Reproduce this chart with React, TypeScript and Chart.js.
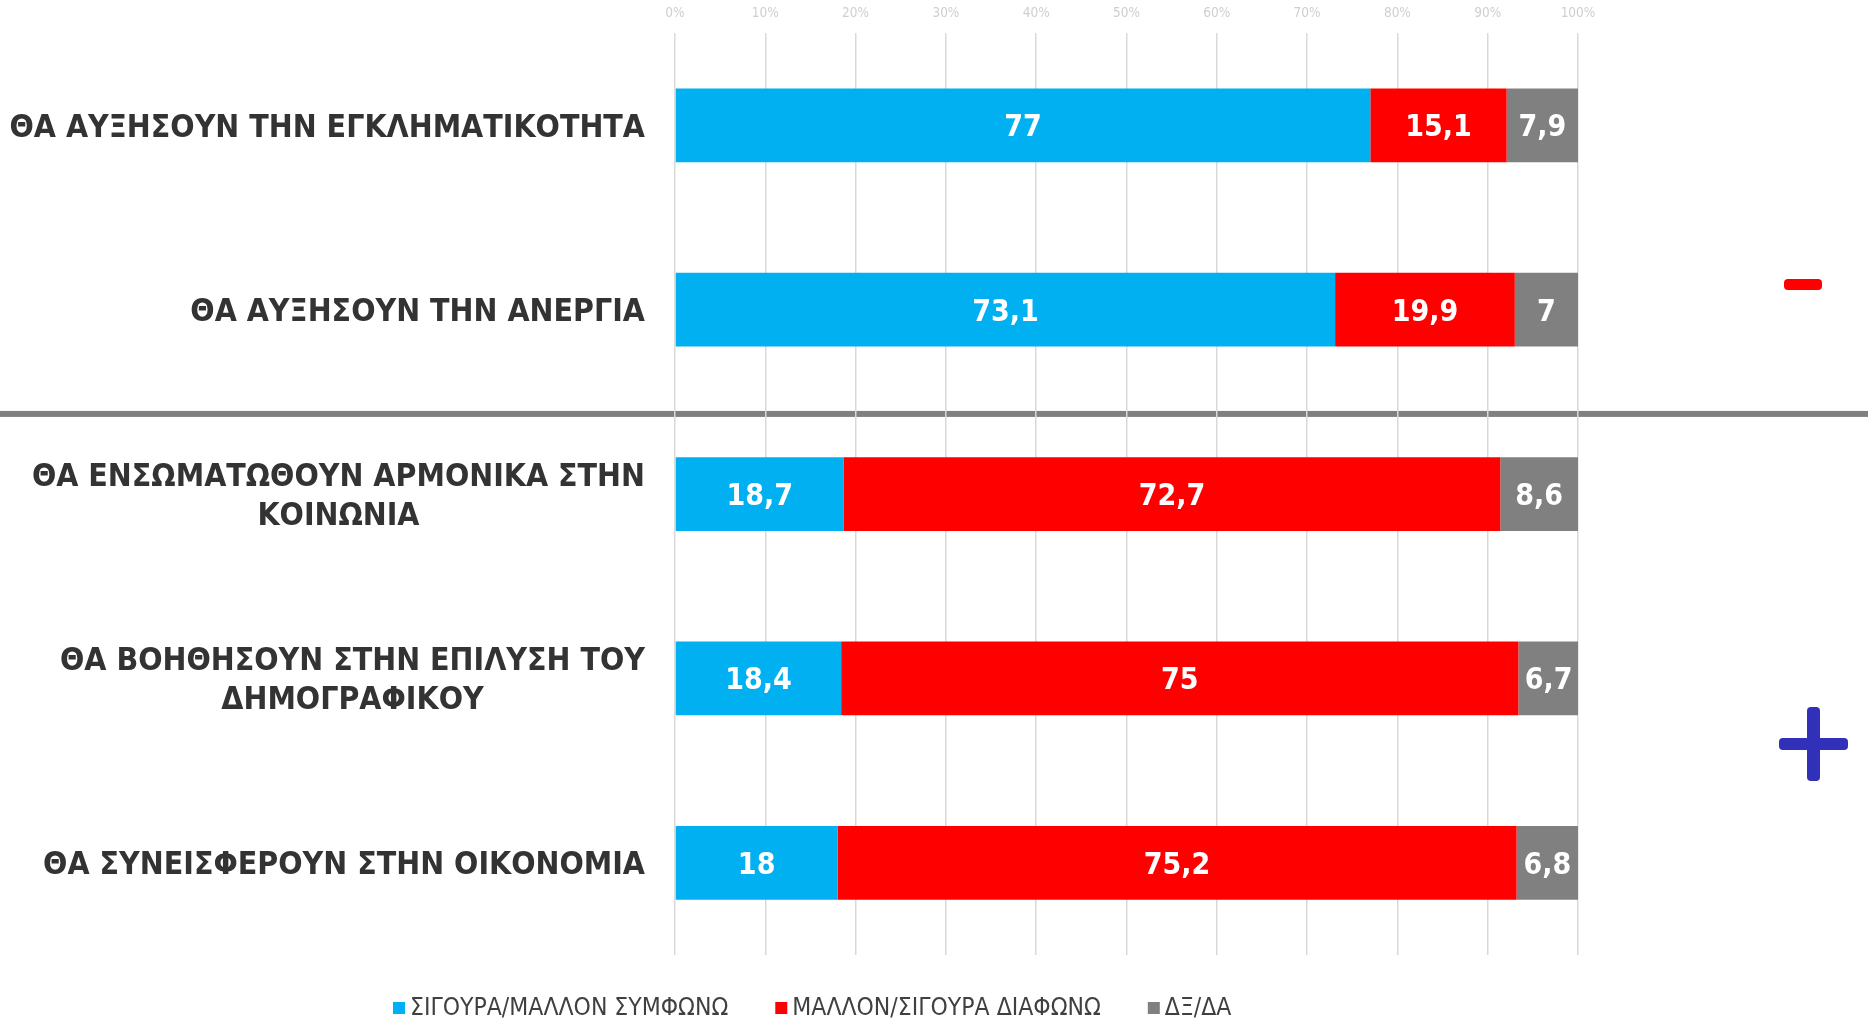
import React, { useEffect, useRef } from "react";
import { Chart, registerables } from "chart.js";

Chart.register(...registerables);

const categories: (string | string[])[] = [
  "ΘΑ ΑΥΞΗΣΟΥΝ ΤΗΝ ΕΓΚΛΗΜΑΤΙΚΟΤΗΤΑ",
  "ΘΑ ΑΥΞΗΣΟΥΝ ΤΗΝ ΑΝΕΡΓΙΑ",
  ["ΘΑ ΕΝΣΩΜΑΤΩΘΟΥΝ ΑΡΜΟΝΙΚΑ ΣΤΗΝ", "ΚΟΙΝΩΝΙΑ"],
  ["ΘΑ ΒΟΗΘΗΣΟΥΝ ΣΤΗΝ ΕΠΙΛΥΣΗ ΤΟΥ", "ΔΗΜΟΓΡΑΦΙΚΟΥ"],
  "ΘΑ ΣΥΝΕΙΣΦΕΡΟΥΝ ΣΤΗΝ ΟΙΚΟΝΟΜΙΑ",
];

const seriesNames = ["ΣΙΓΟΥΡΑ/ΜΑΛΛΟΝ ΣΥΜΦΩΝΩ", "ΜΑΛΛΟΝ/ΣΙΓΟΥΡΑ ΔΙΑΦΩΝΩ", "ΔΞ/ΔΑ"];
const agreeValues = [77, 73.1, 18.7, 18.4, 18];
const disagreeValues = [15.1, 19.9, 72.7, 75, 75.2];
const dontKnowValues = [7.9, 7, 8.6, 6.7, 6.8];
const seriesColors = ["#00B0F0", "#FF0000", "#808080"];
const xTickStep = 10;
const xMin = 0;
const xMax = 100;

const FONT = '"DejaVu Sans Condensed", "DejaVu Sans", sans-serif';
const fmt = (v: number) => String(v).replace(".", ",");

const overlayPlugin = {
  id: "overlay",
  beforeDraw(chart: any) {
    const ctx = chart.ctx;
    const y = chart.scales.y;
    const sepY = (y.getPixelForValue(1) + y.getPixelForValue(2)) / 2 + 12;
    ctx.save();
    ctx.fillStyle = "#808080";
    ctx.fillRect(0, sepY - 3, chart.width, 6);
    ctx.restore();
  },
  afterDatasetsDraw(chart: any) {
    const ctx = chart.ctx;
    ctx.save();
    ctx.font = `bold 30px ${FONT}`;
    ctx.fillStyle = "#FFFFFF";
    ctx.textAlign = "center";
    ctx.textBaseline = "middle";
    chart.data.datasets.forEach((ds: any, di: number) => {
      const meta = chart.getDatasetMeta(di);
      meta.data.forEach((bar: any, i: number) => {
        const p = bar.getCenterPoint();
        ctx.fillText(fmt(ds.data[i]), p.x, p.y + 3);
      });
    });
    ctx.restore();
  },
  afterDraw(chart: any) {
    const ctx = chart.ctx;
    const y = chart.scales.y;
    const area = chart.chartArea;
    ctx.save();
    // category labels
    ctx.font = `bold 31.8px ${FONT}`;
    ctx.fillStyle = "#333333";
    ctx.textBaseline = "middle";
    const right = area.left - 30;
    const lh = 39;
    categories.forEach((lab, i) => {
      const lines = Array.isArray(lab) ? lab : [lab];
      const cy = y.getPixelForValue(i);
      const widest = Math.max(...lines.map((l) => ctx.measureText(l).width));
      const cx = right - widest / 2;
      ctx.textAlign = "center";
      lines.forEach((l, k) => {
        const ly = cy + (k - (lines.length - 1) / 2) * lh;
        ctx.fillText(l, cx, ly + 3);
      });
    });

    const rr = (x: number, yy: number, w: number, h: number, r: number) => {
      ctx.beginPath();
      ctx.moveTo(x + r, yy);
      ctx.arcTo(x + w, yy, x + w, yy + h, r);
      ctx.arcTo(x + w, yy + h, x, yy + h, r);
      ctx.arcTo(x, yy + h, x, yy, r);
      ctx.arcTo(x, yy, x + w, yy, r);
      ctx.closePath();
      ctx.fill();
    };
    // minus sign
    ctx.fillStyle = "#FF0000";
    rr(1784, 279, 38, 11, 4);
    // plus sign
    ctx.fillStyle = "#3030B8";
    rr(1779, 738, 69, 12, 4);
    rr(1807, 707, 13, 74, 4);

    // legend
    ctx.font = `24.5px ${FONT}`;
    ctx.textAlign = "left";
    ctx.textBaseline = "middle";
    const ly = 1008;
    let x = 393;
    chart.data.datasets.forEach((ds: any) => {
      ctx.fillStyle = ds.backgroundColor;
      ctx.fillRect(x, ly - 6, 12, 12);
      x += 17;
      ctx.fillStyle = "#404040";
      ctx.fillText(ds.label, x, ly + 1);
      x += ctx.measureText(ds.label).width + 47;
    });
    ctx.restore();
  },
};

export default function App() {
  const ref = useRef<HTMLCanvasElement | null>(null);
  useEffect(() => {
    if (!ref.current) return;
    const chart = new Chart(ref.current, {
      type: "bar",
      data: {
        labels: categories.map((c) => (Array.isArray(c) ? c.join(" ") : c)),
        datasets: [agreeValues, disagreeValues, dontKnowValues].map((d, i) => ({
          label: seriesNames[i],
          data: d,
          backgroundColor: seriesColors[i],
          borderWidth: 0,
          categoryPercentage: 1,
          barPercentage: 0.4,
        })),
      },
      options: {
        indexAxis: "y",
        animation: false,
        responsive: false,
        maintainAspectRatio: false,
        layout: { padding: { left: 675, right: 290, top: -7, bottom: 66 } },
        plugins: { legend: { display: false }, tooltip: { enabled: false } },
        scales: {
          x: {
            type: "linear",
            position: "top",
            stacked: true,
            min: xMin,
            max: xMax,
            ticks: {
              stepSize: xTickStep,
              padding: 12,
              color: "#CFCFCF",
              font: { family: FONT, size: 13.5 },
              callback: (v: any) => `${v}%`,
            },
            grid: { color: "#D9D9D9", lineWidth: 1.5, drawTicks: false },
            border: { display: false },
          },
          y: {
            type: "category",
            stacked: true,
            display: false,
          },
        },
      },
      plugins: [overlayPlugin],
    } as any);
    return () => chart.destroy();
  }, []);
  return (
    <div style={{ position: "absolute", left: 0, top: 0, width: 1868, height: 1021, background: "#fff" }}>
      <canvas ref={ref} width={1868} height={1021} style={{ width: 1868, height: 1021, display: "block" }} />
    </div>
  );
}
